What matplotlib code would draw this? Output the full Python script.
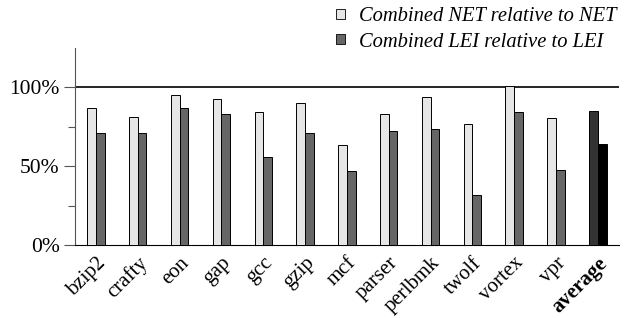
import numpy as np
import matplotlib
matplotlib.use("Agg")
import matplotlib.pyplot as plt
from matplotlib.patches import Patch

benchmarks = ["bzip2", "crafty", "eon", "gap", "gcc", "gzip", "mcf",
              "parser", "perlbmk", "twolf", "vortex", "vpr", "average"]
net_rel = [86.7, 81.4, 95.1, 92.6, 84.2, 89.9, 63.3,
           82.9, 93.9, 77.0, 101.0, 80.8, 85.0]
lei_rel = [70.9, 70.9, 86.7, 82.9, 55.7, 70.9, 47.2,
           72.2, 73.6, 32.0, 84.6, 47.4, 63.9]

plt.rcParams["font.family"] = ["Liberation Serif", "DejaVu Serif"]

fig = plt.figure(figsize=(6.25, 3.18), dpi=100)
ax = fig.add_axes([0.12, 0.2286, 0.87, 0.621])

x = np.arange(len(benchmarks))
w = 0.208
net_colors = ["#e6e6e6"] * (len(benchmarks) - 1) + ["#333333"]
lei_colors = ["#666666"] * (len(benchmarks) - 1) + ["#000000"]
ax.bar(x - w / 2, net_rel, w, color=net_colors, edgecolor="black", linewidth=0.7, zorder=3)
ax.bar(x + w / 2, lei_rel, w, color=lei_colors, edgecolor="black", linewidth=0.7, zorder=3)

ax.axhline(100, color="black", linewidth=1.2, zorder=2)

ax.set_xlim(-0.5, 12.5)
ax.set_ylim(0, 125)
ax.set_yticks([0, 50, 100])
ax.set_yticklabels(["0%", "50%", "100%"], fontsize=15.5)
ax.set_yticks([25, 75], minor=True)
ax.tick_params(axis="y", which="major", length=8, width=0.8, color="#555555", pad=3)
ax.tick_params(axis="y", which="minor", length=5, width=0.8, color="#555555")

ax.set_xticks(x)
ax.set_xticklabels(benchmarks, rotation=45, ha="right", rotation_mode="anchor", fontsize=15)
ax.get_xticklabels()[-1].set_fontweight("bold")
ax.tick_params(axis="x", length=0, pad=6)

for s in ["top", "right"]:
    ax.spines[s].set_visible(False)
ax.spines["left"].set_color("#555555")
ax.spines["bottom"].set_color("black")

handles = [Patch(facecolor="#e6e6e6", edgecolor="black", linewidth=0.6),
           Patch(facecolor="#666666", edgecolor="black", linewidth=0.6)]
fig.legend(handles, ["Combined NET relative to NET", "Combined LEI relative to LEI"],
           loc="upper right", bbox_to_anchor=(1.016, 1.035), frameon=False,
           prop={"style": "italic", "size": 14.8}, handlelength=0.4, handleheight=0.4,
           handletextpad=0.7, labelspacing=0.3)

fig.savefig("out.png", dpi=100)
